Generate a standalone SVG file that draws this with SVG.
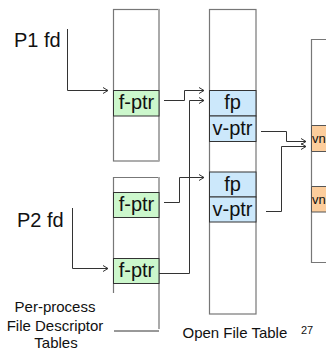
<svg xmlns="http://www.w3.org/2000/svg" width="326" height="349" viewBox="0 0 326 349">
<style>
text{font-family:"Liberation Sans",Arial,sans-serif;fill:#111}
.cell{font-size:20px;text-anchor:middle}
.lbl{font-size:20px}
.cap{font-size:15px;text-anchor:middle}
.vn{font-size:13px}
.tbl{fill:#fff;stroke:#777;stroke-width:1.2}
.edge{stroke:#aaa;stroke-width:2;fill:none}
.g{fill:#ccf7cc;stroke:#333;stroke-width:1}
.b{fill:#cce8fb;stroke:#333;stroke-width:1}
.o{fill:#fccd9c;stroke:#555;stroke-width:1}
.c{fill:none;stroke:#333;stroke-width:1}
</style>
<defs>
<marker id="ar" markerWidth="8" markerHeight="8" refX="6" refY="4" orient="auto" markerUnits="userSpaceOnUse">
<path d="M1,1 L6,4 L1,7" fill="none" stroke="#333" stroke-width="1"/>
</marker>
</defs>
<rect width="326" height="349" fill="#fff"/>

<g id="fdt1">
<rect class="tbl" x="113.5" y="9.5" width="45.5" height="151.5"/>
<line class="edge" x1="159" y1="9" x2="159" y2="161"/>
<rect class="g" x="113.5" y="90.5" width="45.5" height="25.5"/>
<text class="cell" x="136.5" y="109">f-ptr</text>
</g>

<g id="fdt2">
<path d="M113.5,293 V177.5 H159" fill="none" stroke="#777" stroke-width="1.2"/>
<line class="edge" x1="159" y1="177" x2="159" y2="329"/>
<rect class="g" x="113.5" y="192.5" width="45.5" height="25"/>
<text class="cell" x="136.5" y="211">f-ptr</text>
<rect class="g" x="113.5" y="258.5" width="45.5" height="25"/>
<text class="cell" x="136.5" y="277">f-ptr</text>
</g>

<g id="oft">
<rect class="tbl" x="209.5" y="9.5" width="46.5" height="304.5"/>
<rect class="b" x="209.5" y="90.5" width="46.5" height="25.5"/>
<text class="cell" x="232.5" y="109">fp</text>
<rect class="b" x="209.5" y="116" width="46.5" height="25.5"/>
<text class="cell" x="232.5" y="135">v-ptr</text>
<rect class="b" x="209.5" y="172" width="46.5" height="25"/>
<text class="cell" x="232.5" y="191">fp</text>
<rect class="b" x="209.5" y="197" width="46.5" height="25"/>
<text class="cell" x="232.5" y="216">v-ptr</text>
</g>

<g id="vnode">
<path d="M326,39.5 H311.5 V262.5 H326" fill="none" stroke="#777" stroke-width="1.2"/>
<path class="o" d="M326,125.5 H311.5 V151.5 H326"/>
<text class="vn" x="312" y="143">vn</text>
<path class="o" d="M326,186.5 H311.5 V212 H326"/>
<text class="vn" x="312" y="204">vn</text>
</g>

<g id="labels">
<text class="lbl" x="14" y="46.5">P1 fd</text>
<text class="lbl" x="17" y="227">P2 fd</text>
<text class="cap" x="55" y="312">Per-process</text>
<text class="cap" x="55" y="330.5">File Descriptor</text>
<text class="cap" x="56" y="347.5">Tables</text>
<text x="182.5" y="337.5" style="font-size:15px">Open File Table</text>
<text x="301" y="333.5" style="font-size:11px">27</text>
</g>

<g id="connectors">
<path class="c" d="M67.5,29 V90.5 H108" marker-end="url(#ar)"/>
<path class="c" d="M72.5,208 V268.5 H108" marker-end="url(#ar)"/>
<path class="c" d="M164,100.5 H184.5 V90.5 H204" marker-end="url(#ar)"/>
<path class="c" d="M159,273.5 H189.5 V100.5 H204" marker-end="url(#ar)"/>
<path class="c" d="M164,202.5 H179.5 V177.5 H204" marker-end="url(#ar)"/>
<path class="c" d="M261,131.5 H286.5 V141.5 H306" marker-end="url(#ar)"/>
<path class="c" d="M266,211.5 H281.5 V146.5 H306" marker-end="url(#ar)"/>
<line class="c" x1="114" y1="331" x2="159" y2="331"/>
</g>
</svg>
